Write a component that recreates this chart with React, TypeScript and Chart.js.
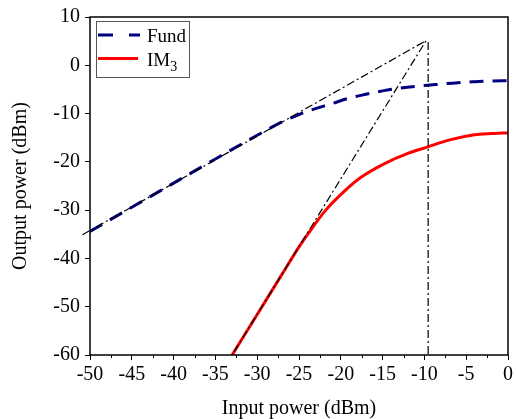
import React, { useEffect, useRef } from "react";
import { Chart, registerables } from "chart.js";

Chart.register(...registerables);

// Fundamental output (dBm) vs input (dBm)
const fundX = [-50, -45, -40, -35, -30, -27, -25, -23.6, -21, -19, -17, -15, -12.3, -10, -8.7, -6, -3.9, -2, 0];
const fundY = [-34.4, -29.4, -24.4, -19.4, -14.5, -11.7, -10.2, -9.3, -7.9, -6.8, -6.0, -5.3, -4.6, -4.2, -4.0, -3.6, -3.4, -3.25, -3.2];

// Third-order intermodulation output
const im3X = [-33.0, -30, -27, -25, -23.8, -21.8, -19.4, -17.5, -14.7, -11.9, -9.5, -7.1, -4, -2, 0];
const im3Y = [-60, -51.6, -43.2, -37.6, -34.6, -30.0, -25.8, -23.1, -20.3, -18.2, -16.85, -15.5, -14.4, -14.15, -14.0];

// Extrapolation lines to the intercept point
const apexX = -9.8;
const apexY = 5.1;
const verticalX = -9.55;
const fundExtrapStart = [-50.9, -35.1];
const im3ExtrapEnd = [-33.0, -60];

const xTicks = [-50, -45, -40, -35, -30, -25, -20, -15, -10, -5, 0];
const yTicks = [-60, -50, -40, -30, -20, -10, 0, 10];

const FONT = "'Liberation Serif', 'Times New Roman', serif";

const framePlugin = {
  id: "frame",
  afterDraw(chart: any) {
    const { ctx, chartArea: a, scales } = chart;
    ctx.save();
    ctx.strokeStyle = "#000";
    ctx.lineWidth = 1.5;
    ctx.strokeRect(a.left, a.top, a.right - a.left, a.bottom - a.top);
    // minor x ticks
    ctx.lineWidth = 1;
    for (let i = 0; i < xTicks.length - 1; i++) {
      const v = (xTicks[i] + xTicks[i + 1]) / 2;
      const px = Math.round(scales.x.getPixelForValue(v)) + 0.5;
      ctx.beginPath();
      ctx.moveTo(px, a.bottom);
      ctx.lineTo(px, a.bottom + 3);
      ctx.stroke();
    }
    // legend
    const bx = 96.5, by = 21.5, bw = 93, bh = 56;
    ctx.fillStyle = "#fff";
    ctx.fillRect(bx, by, bw, bh);
    ctx.strokeStyle = "#555";
    ctx.lineWidth = 1;
    ctx.strokeRect(bx, by, bw, bh);
    // Fund sample
    ctx.strokeStyle = "#000080";
    ctx.lineWidth = 3;
    ctx.setLineDash([15, 16]);
    ctx.beginPath();
    ctx.moveTo(98, 35);
    ctx.lineTo(140, 35);
    ctx.stroke();
    ctx.setLineDash([]);
    // IM3 sample
    ctx.strokeStyle = "#ff0000";
    ctx.beginPath();
    ctx.moveTo(98, 58.5);
    ctx.lineTo(138, 58.5);
    ctx.stroke();
    ctx.fillStyle = "#000";
    ctx.textBaseline = "alphabetic";
    ctx.textAlign = "left";
    ctx.font = "19px " + FONT;
    ctx.fillText("Fund", 147, 42);
    ctx.fillText("IM", 147, 66);
    const w = ctx.measureText("IM").width;
    ctx.font = "14px " + FONT;
    ctx.fillText("3", 147 + w, 71);
    ctx.restore();
  },
};

export default function App() {
  const ref = useRef<HTMLCanvasElement>(null);
  useEffect(() => {
    if (!ref.current) return;
    const dashDot = [8, 3, 2, 3];
    const chart = new Chart(ref.current, {
      type: "line",
      data: {
        datasets: [
          {
            label: "Fund",
            data: fundX.map((x, i) => ({ x, y: fundY[i] })),
            borderColor: "#000080",
            borderWidth: 3,
            borderDash: [14, 9],
            pointRadius: 0,
            cubicInterpolationMode: "monotone",
            fill: false,
            order: 1,
          },
          {
            label: "IM3",
            data: im3X.map((x, i) => ({ x, y: im3Y[i] })),
            borderColor: "#ff0000",
            borderWidth: 3,
            pointRadius: 0,
            cubicInterpolationMode: "monotone",
            fill: false,
            order: 1,
          },
          {
            label: "extrapolation",
            data: [
              { x: fundExtrapStart[0], y: fundExtrapStart[1] },
              { x: apexX, y: apexY },
              { x: im3ExtrapEnd[0], y: im3ExtrapEnd[1] },
            ],
            borderColor: "#000",
            borderWidth: 1.2,
            borderDash: dashDot,
            pointRadius: 0,
            tension: 0,
            clip: false,
            fill: false,
            order: -1,
          },
          {
            label: "vertical",
            data: [
              { x: verticalX, y: apexY - 0.3 },
              { x: verticalX, y: -60 },
            ],
            borderColor: "#000",
            borderWidth: 1.2,
            borderDash: dashDot,
            pointRadius: 0,
            tension: 0,
            fill: false,
            order: -1,
          },
        ],
      },
      options: {
        animation: false,
        responsive: false,
        layout: { padding: { top: 17, right: 6, left: 0, bottom: 0 } },
        plugins: { legend: { display: false }, tooltip: { enabled: false } },
        scales: {
          x: {
            type: "linear",
            min: -50,
            max: 0,
            afterBuildTicks: (s: any) => {
              s.ticks = xTicks.map((v) => ({ value: v }));
            },
            afterFit: (s: any) => {
              s.height = 64;
            },
            ticks: { color: "#000", font: { family: FONT, size: 20 }, padding: 3, maxRotation: 0, autoSkip: false },
            grid: { drawOnChartArea: false, drawTicks: true, tickLength: 5, tickColor: "#000", tickWidth: 1 },
            border: { display: false },
            title: {
              display: true,
              text: "Input power (dBm)",
              color: "#000",
              font: { family: FONT, size: 20, lineHeight: 1 },
              padding: { top: 0, bottom: 0 },
            },
          },
          y: {
            type: "linear",
            min: -60,
            max: 10,
            afterBuildTicks: (s: any) => {
              s.ticks = yTicks.map((v) => ({ value: v }));
            },
            afterFit: (s: any) => {
              s.width = 90;
            },
            ticks: { color: "#000", font: { family: FONT, size: 20 }, padding: 5, autoSkip: false },
            grid: { drawOnChartArea: false, drawTicks: true, tickLength: 5, tickColor: "#000", tickWidth: 1 },
            border: { display: false },
            title: {
              display: true,
              text: "Output power (dBm)",
              color: "#000",
              font: { family: FONT, size: 20 },
              padding: { top: 9, bottom: 0 },
            },
          },
        },
      },
      plugins: [framePlugin],
    } as any);
    return () => chart.destroy();
  }, []);
  return (
    <div style={{ position: "fixed", left: 0, top: 0, width: 516, height: 419, background: "#fff" }}>
      <canvas ref={ref} width={516} height={419} style={{ display: "block" }} />
    </div>
  );
}
